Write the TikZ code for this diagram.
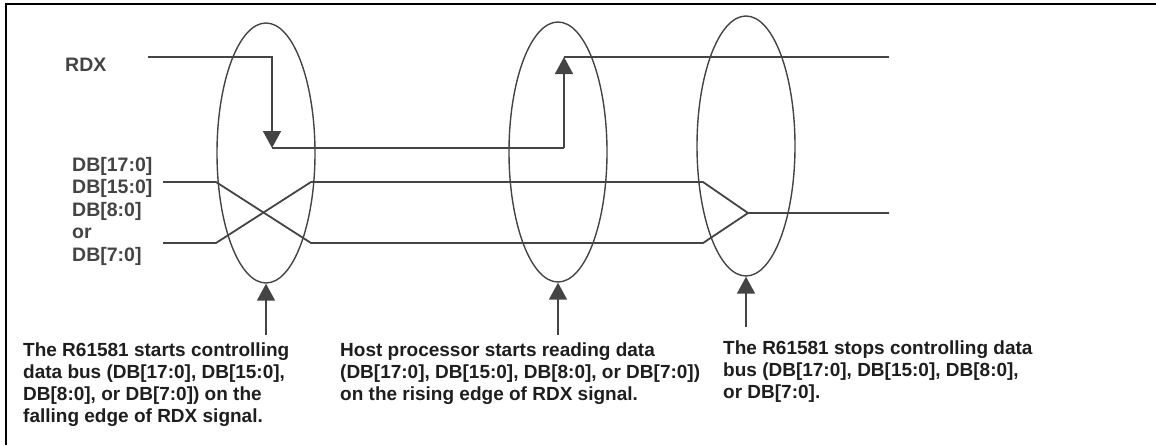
\documentclass[tikz,border=0pt]{standalone}
\usepackage{fontspec}
\setmainfont{Liberation Sans}
\usetikzlibrary{arrows.meta,shapes.geometric}
\definecolor{sigline}{HTML}{444444}
\definecolor{notetext}{HTML}{1E1E1E}
\begin{document}
\begin{tikzpicture}[x=1pt, y=-1pt]
			\tikzstyle{sig}  = [draw=sigline, line width=1.8pt]
			\tikzstyle{ring} = [ellipse, draw=sigline, line width=1.4pt, inner sep=0pt, minimum width=98pt, minimum height=260pt]
			\tikzstyle{tip}  = [-{Triangle[width=18pt, length=17pt]}]
			\tikzstyle{note} = [anchor=north west, inner sep=0pt, align=left, text=notetext, font=\bfseries\fontsize{19}{22}\selectfont]

			\useasboundingbox (0,0) rectangle (1156,445);
			\draw[line width=2pt] (6,445) -- (6,4) -- (1156,4);

%			signal names
			\node[note, anchor=base west, text=sigline, font=\bfseries\fontsize{19.5}{22.5}\selectfont] (rdx) at (65,71) {RDX};
			\node[note, text=sigline, align=left, font=\bfseries\fontsize{19.5}{22.5}\selectfont] (db) at (72,157)
				{DB[17:0]\\DB[15:0]\\DB[8:0]\\or\\DB[7:0]};

%			edges of the read cycle
			\foreach \name/\x/\y in {e1/266/153, e2/558/152, e3/746/146}
				\node[ring] (\name) at (\x, \y) {};

%			RDX
			\coordinate (r0) at (148,57);
			\coordinate (fall) at (272,148);
			\coordinate (low) at (564,148);
			\coordinate (rise) at (564,57);
			\coordinate (r1) at (889,57);
			\draw[sig, tip] (r0) -| (fall);
			\draw[sig] (fall) -- (low);
			\draw[sig, tip] (low) -- (rise);
			\draw[sig] (rise) -- (r1);

%			data bus
			\foreach \name/\x/\y in {a0/163/182, a1/216/182, a2/311/243, a3/703/243,
					b0/163/243, b1/216/243, b2/311/182, b3/703/182, m/748/213, z/889/213}
				\coordinate (\name) at (\x, \y);
			\draw[sig] (a0) -- (a1) -- (a2) -- (a3) -- (m) -- (z);
			\draw[sig] (b0) -- (b1) -- (b2) -- (b3) -- (m);

%			notes
			\node[note] (n1) at (23,343) {The R61581 starts controlling\\data bus (DB[17:0], DB[15:0],\\DB[8:0], or DB[7:0]) on the\\falling edge of RDX signal.};
			\node[note] (n2) at (340,343) {Host processor starts reading data\\(DB[17:0], DB[15:0], DB[8:0], or DB[7:0])\\on the rising edge of RDX signal.};
			\node[note] (n3) at (723,341) {The R61581 stops controlling data\\bus (DB[17:0], DB[15:0], DB[8:0],\\or DB[7:0].};

			\foreach \ring/\x/\y in {e1/266/335, e2/558/335, e3/746/327}{
				\coordinate (p\ring) at (\x, \y);
				\draw[sig, tip] (p\ring) -- (\ring.south);
			}
\end{tikzpicture}
\end{document}
